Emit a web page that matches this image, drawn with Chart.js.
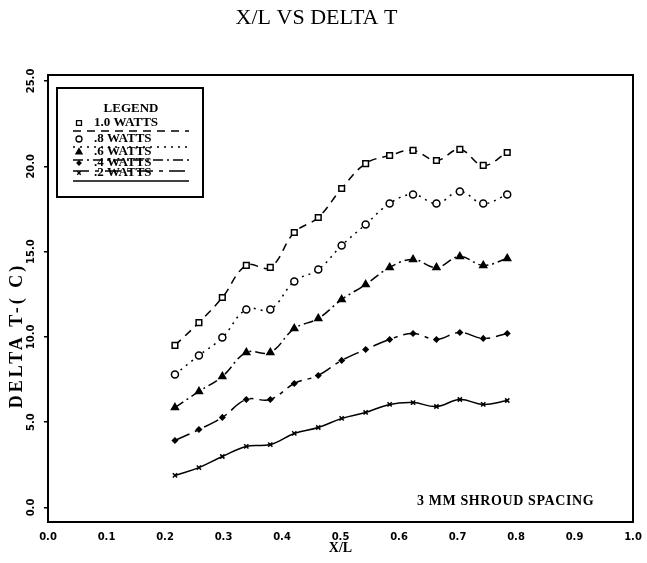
<!DOCTYPE html>
<html>
<head>
<meta charset="utf-8">
<script src="https://cdn.jsdelivr.net/npm/chart.js@4.4.1/dist/chart.umd.min.js"></script>
<style>
    html, body { margin: 0; padding: 0; background: #fff; }
</style>
</head>
<body>
<canvas id="myChart" width="647" height="563"></canvas>
<script>
//! DATA
const xPos = [0.217, 0.258, 0.298, 0.339, 0.380, 0.421, 0.462, 0.502, 0.543, 0.584, 0.624, 0.664, 0.704, 0.744, 0.785];
const watts10 = [9.50, 10.84, 12.31, 14.19, 14.07, 16.12, 17.00, 18.70, 20.16, 20.63, 20.93, 20.34, 20.99, 20.05, 20.81];
const watts08 = [7.80, 8.91, 9.96, 11.61, 11.61, 13.25, 13.95, 15.36, 16.59, 17.82, 18.35, 17.82, 18.52, 17.82, 18.35];
const watts06 = [5.86, 6.80, 7.68, 9.09, 9.09, 10.49, 11.08, 12.19, 13.07, 14.07, 14.54, 14.07, 14.71, 14.19, 14.60];
const watts04 = [3.93, 4.57, 5.28, 6.33, 6.33, 7.27, 7.74, 8.62, 9.26, 9.85, 10.20, 9.85, 10.26, 9.91, 10.20];
const watts02 = [1.88, 2.34, 2.99, 3.58, 3.69, 4.34, 4.69, 5.22, 5.57, 6.04, 6.15, 5.92, 6.33, 6.04, 6.27];
const seriesLabels = ['1.0 WATTS', '.8 WATTS', '.6 WATTS', '.4 WATTS', '.2 WATTS'];
const xTicks = [0, 0.1, 0.2, 0.3, 0.4, 0.5, 0.6, 0.7, 0.8, 0.9, 1.0];
const yTicks = [0, 5, 10, 15, 20, 25];

const serif = "'Liberation Serif', 'DejaVu Serif', serif";
const sans = "'DejaVu Sans', sans-serif";

//* turn the value arrays into {x, y} points
function toPoints(ys) {
    return ys.map(function (y, i) {
        return { x: xPos[i], y: y };
    });
}

//* one dataset per power level
function makeSet(label, ys, style) {
    return Object.assign({
        label: label,
        data: toPoints(ys),
        borderColor: '#000',
        pointBorderColor: '#000',
        borderWidth: 1.5,
        pointBorderWidth: 1.5,
        tension: 0.4,
        fill: false
    }, style);
}

const data = {
    datasets: [
        makeSet(seriesLabels[0], watts10, { borderDash: [8, 6], pointStyle: 'rect', pointRadius: 4, pointBackgroundColor: '#fff' }),
        makeSet(seriesLabels[1], watts08, { borderDash: [2, 5], pointStyle: 'circle', pointRadius: 3.5, pointBackgroundColor: '#fff' }),
        makeSet(seriesLabels[2], watts06, { borderDash: [10, 4, 2, 4], pointStyle: 'triangle', pointRadius: 4, pointBackgroundColor: '#000' }),
        makeSet(seriesLabels[3], watts04, { borderDash: [16, 6, 4, 6], pointStyle: 'rectRot', pointRadius: 2.5, pointBackgroundColor: '#000' }),
        makeSet(seriesLabels[4], watts02, { borderDash: [], pointStyle: 'crossRot', pointRadius: 3 })
    ]
};

//! PLOT FRAME + LEGEND BOX + TEXTS
const framePlugin = {
    id: 'frame',
    beforeDatasetsDraw(chart) {
        const { ctx, chartArea: a } = chart;
        ctx.save();
        ctx.strokeStyle = '#000';
        ctx.lineWidth = 2;
        ctx.strokeRect(a.left, a.top, a.right - a.left, a.bottom - a.top);
        ctx.restore();
    },
    afterDraw(chart) {
        const ctx = chart.ctx;
        const a = chart.chartArea;
        ctx.save();
        ctx.strokeStyle = '#000';
        ctx.fillStyle = '#000';
        //* legend box
        ctx.lineWidth = 2;
        ctx.strokeRect(57, 88, 146, 109);
        ctx.font = 'bold 13px ' + serif;
        ctx.textAlign = 'center';
        ctx.textBaseline = 'middle';
        ctx.fillText('LEGEND', 131, 109);
        const rowY = [123, 139, 152, 163, 173];
        ctx.textAlign = 'left';
        chart.data.datasets.forEach(function (ds, i) {
            const y = rowY[i];
            ctx.fillText(ds.label, 94, y);
            ctx.lineWidth = 1.3;
            ctx.setLineDash(ds.borderDash);
            ctx.beginPath();
            ctx.moveTo(73, y + 8);
            ctx.lineTo(189, y + 8);
            ctx.stroke();
            ctx.setLineDash([]);
            ctx.fillStyle = ds.pointBackgroundColor || '#000';
            Chart.helpers.drawPoint(ctx, {
                pointStyle: ds.pointStyle,
                radius: ds.pointRadius - 0.5,
                borderWidth: 1.3,
                rotation: 0
            }, 79, y);
            ctx.fillStyle = '#000';
        });
        //* note
        ctx.font = 'bold 14px ' + serif;
        ctx.letterSpacing = '0.6px';
        ctx.fillText('3 MM SHROUD SPACING', 417, 501);
        //* y axis title, wide like the scan
        ctx.font = 'bold 18px ' + serif;
        ctx.letterSpacing = '3px';
        ctx.translate(17, (a.top + a.bottom) / 2 + 37);
        ctx.rotate(-Math.PI / 2);
        ctx.textAlign = 'center';
        ctx.fillText('DELTA T-( C)', 0, 0);
        ctx.restore();
    }
};

//! CONFIG
const config = {
    type: 'line',
    data,
    options: {
        responsive: false,
        animation: false,
        layout: { padding: { left: 0, right: 14, top: 0, bottom: 0 } },
        plugins: {
            legend: { display: false },
            tooltip: { enabled: false },
            title: {
                display: true,
                text: 'X/L VS DELTA T',
                color: '#000',
                font: { family: serif, size: 22, weight: 'normal' },
                padding: { top: 5, bottom: 43.6 }
            }
        },
        scales: {
            x: {
                type: 'linear',
                min: 0,
                max: 1,
                afterFit: function (s) { s.height = 41; },
                afterBuildTicks: function (s) { s.ticks = xTicks.map(v => ({ value: v })); },
                grid: { display: false },
                border: { display: false },
                ticks: {
                    color: '#000',
                    padding: 1,
                    maxRotation: 0,
                    font: { family: sans, size: 10, weight: 'bold' },
                    callback: v => v.toFixed(1)
                },
                title: {
                    display: true,
                    text: 'X/L',
                    color: '#000',
                    font: { family: serif, size: 14, weight: 'bold' },
                    padding: { top: 0, bottom: 6 }
                }
            },
            y: {
                type: 'linear',
                min: -0.85,
                max: 25.35,
                afterFit: function (s) { s.width = 48; },
                afterBuildTicks: function (s) { s.ticks = yTicks.map(v => ({ value: v })); },
                grid: { display: true, drawOnChartArea: false, drawTicks: true, tickLength: 4, color: '#000', lineWidth: 1.5 },
                border: { display: false },
                ticks: {
                    color: '#000',
                    padding: 0,
                    minRotation: 90,
                    maxRotation: 90,
                    crossAlign: 'center',
                    font: { family: sans, size: 10, weight: 'bold' },
                    callback: v => v.toFixed(1)
                },
                title: { display: false }
            }
        }
    },
    plugins: [framePlugin]
};

//! CREATE CHART
const myChart = new Chart(document.getElementById('myChart'), config);
</script>
</body>
</html>
